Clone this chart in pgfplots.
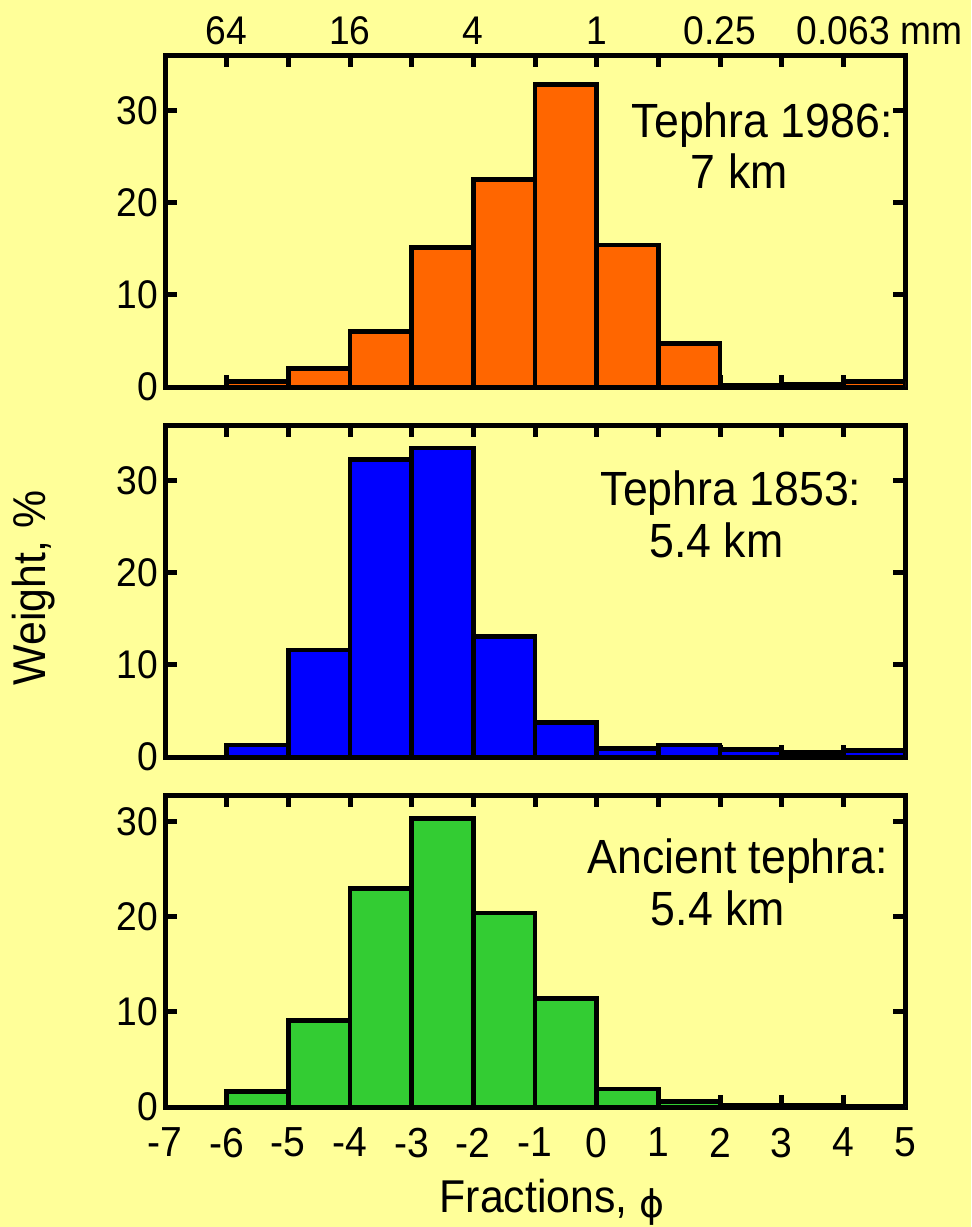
\documentclass[border=0pt]{standalone}
\usepackage{pgfplots}
\pgfplotsset{compat=1.18}
\usepackage{fontspec}
\setmainfont[FakeStretch=0.93]{Liberation Sans}
\newfontfamily\dejavu{DejaVu Sans}
\definecolor{bgy}{RGB}{255,255,153}
\definecolor{orng}{RGB}{255,102,0}
\definecolor{blu}{RGB}{0,0,255}
\definecolor{grn}{RGB}{51,204,51}
\tikzset{annot/.style={font=\fontsize{24}{28}\selectfont, anchor=base, inner sep=0pt}}
\pgfplotsset{
  panel/.style={
    scale only axis, width=370pt, xmin=-7, xmax=5, ymin=0,
    anchor=south west,
    axis background/.style={fill=bgy},
    axis line style={line width=2.5pt, black},
    every tick/.style={line width=2.5pt, black},
    major tick length=6pt,
    tick align=inside,
    xtick={-7,-6,-5,-4,-3,-2,-1,0,1,2,3,4,5},
    ytick={0,10,20,30}, yticklabels={0,10,20,30},
    ticklabel style={font=\fontsize{20}{24}\selectfont, black},
    every axis plot/.append style={ybar interval, draw=black, line width=2.4pt},
  },
}
\begin{document}
\begin{tikzpicture}
\fill[bgy, use as bounding box] (0,0) rectangle (485.5pt,-613.5pt);

% top panel
\begin{axis}[panel, at={(82.5pt,-193.5pt)}, height=166pt, ymax=36,
  xticklabel pos=top,
  xticklabel style={yshift=1.5pt},
  xticklabels={{},64,{},16,{},4,{},1,{},0.25,{},{0.063\rlap{~mm}}}]
\addplot[fill=orng] coordinates {(-7,0) (-6,0.6) (-5,2.0) (-4,6.0) (-3,15.1) (-2,22.5) (-1,32.8) (0,15.4) (1,4.7) (2,0.2) (3,0.3) (4,0.6) (5,0.6)};
\node[annot] at (rel axis cs:0.807,0.753) {Tephra 1986:};
\node[annot] at (rel axis cs:0.776,0.599) {7 km};
\end{axis}

% middle panel
\begin{axis}[panel, at={(82.5pt,-378.5pt)}, height=166pt, ymax=36,
  xticklabels={}]
\addplot[fill=blu] coordinates {(-7,0) (-6,1.3) (-5,11.6) (-4,32.3) (-3,33.5) (-2,13.1) (-1,3.7) (0,0.9) (1,1.3) (2,0.8) (3,0.5) (4,0.7) (5,0.7)};
\node[annot] at (rel axis cs:0.765,0.759) {Tephra 1853:};
\node[annot] at (rel axis cs:0.745,0.602) {5.4 km};
\end{axis}

% bottom panel
\begin{axis}[panel, at={(82.5pt,-553.5pt)}, height=156pt, ymax=32.8,
  xticklabel style={yshift=-7pt, font=\fontsize{21}{25}\selectfont},
  xticklabels={-7,-6,-5,-4,-3,-2,-1,0,1,2,3,4,5}]
\addplot[fill=grn] coordinates {(-7,0) (-6,1.6) (-5,9.1) (-4,23.0) (-3,30.3) (-2,20.4) (-1,11.4) (0,1.9) (1,0.6) (2,0.2) (3,0.2) (4,0.1) (5,0.1)};
\node[annot] at (rel axis cs:0.774,0.75) {Ancient tephra:};
\node[annot] at (rel axis cs:0.747,0.583) {5.4 km};
\end{axis}

\node[rotate=90, font=\fontsize{23}{27}\selectfont, anchor=center] at (17pt,-294pt) {Weight, \%};
\node[font=\fontsize{23}{27}\selectfont, anchor=base, inner sep=0pt] at (276pt,-606pt) {Fractions, {\dejavu\fontsize{19}{22}\selectfont\raisebox{-0.25ex}{ϕ}}};
\end{tikzpicture}
\end{document}
